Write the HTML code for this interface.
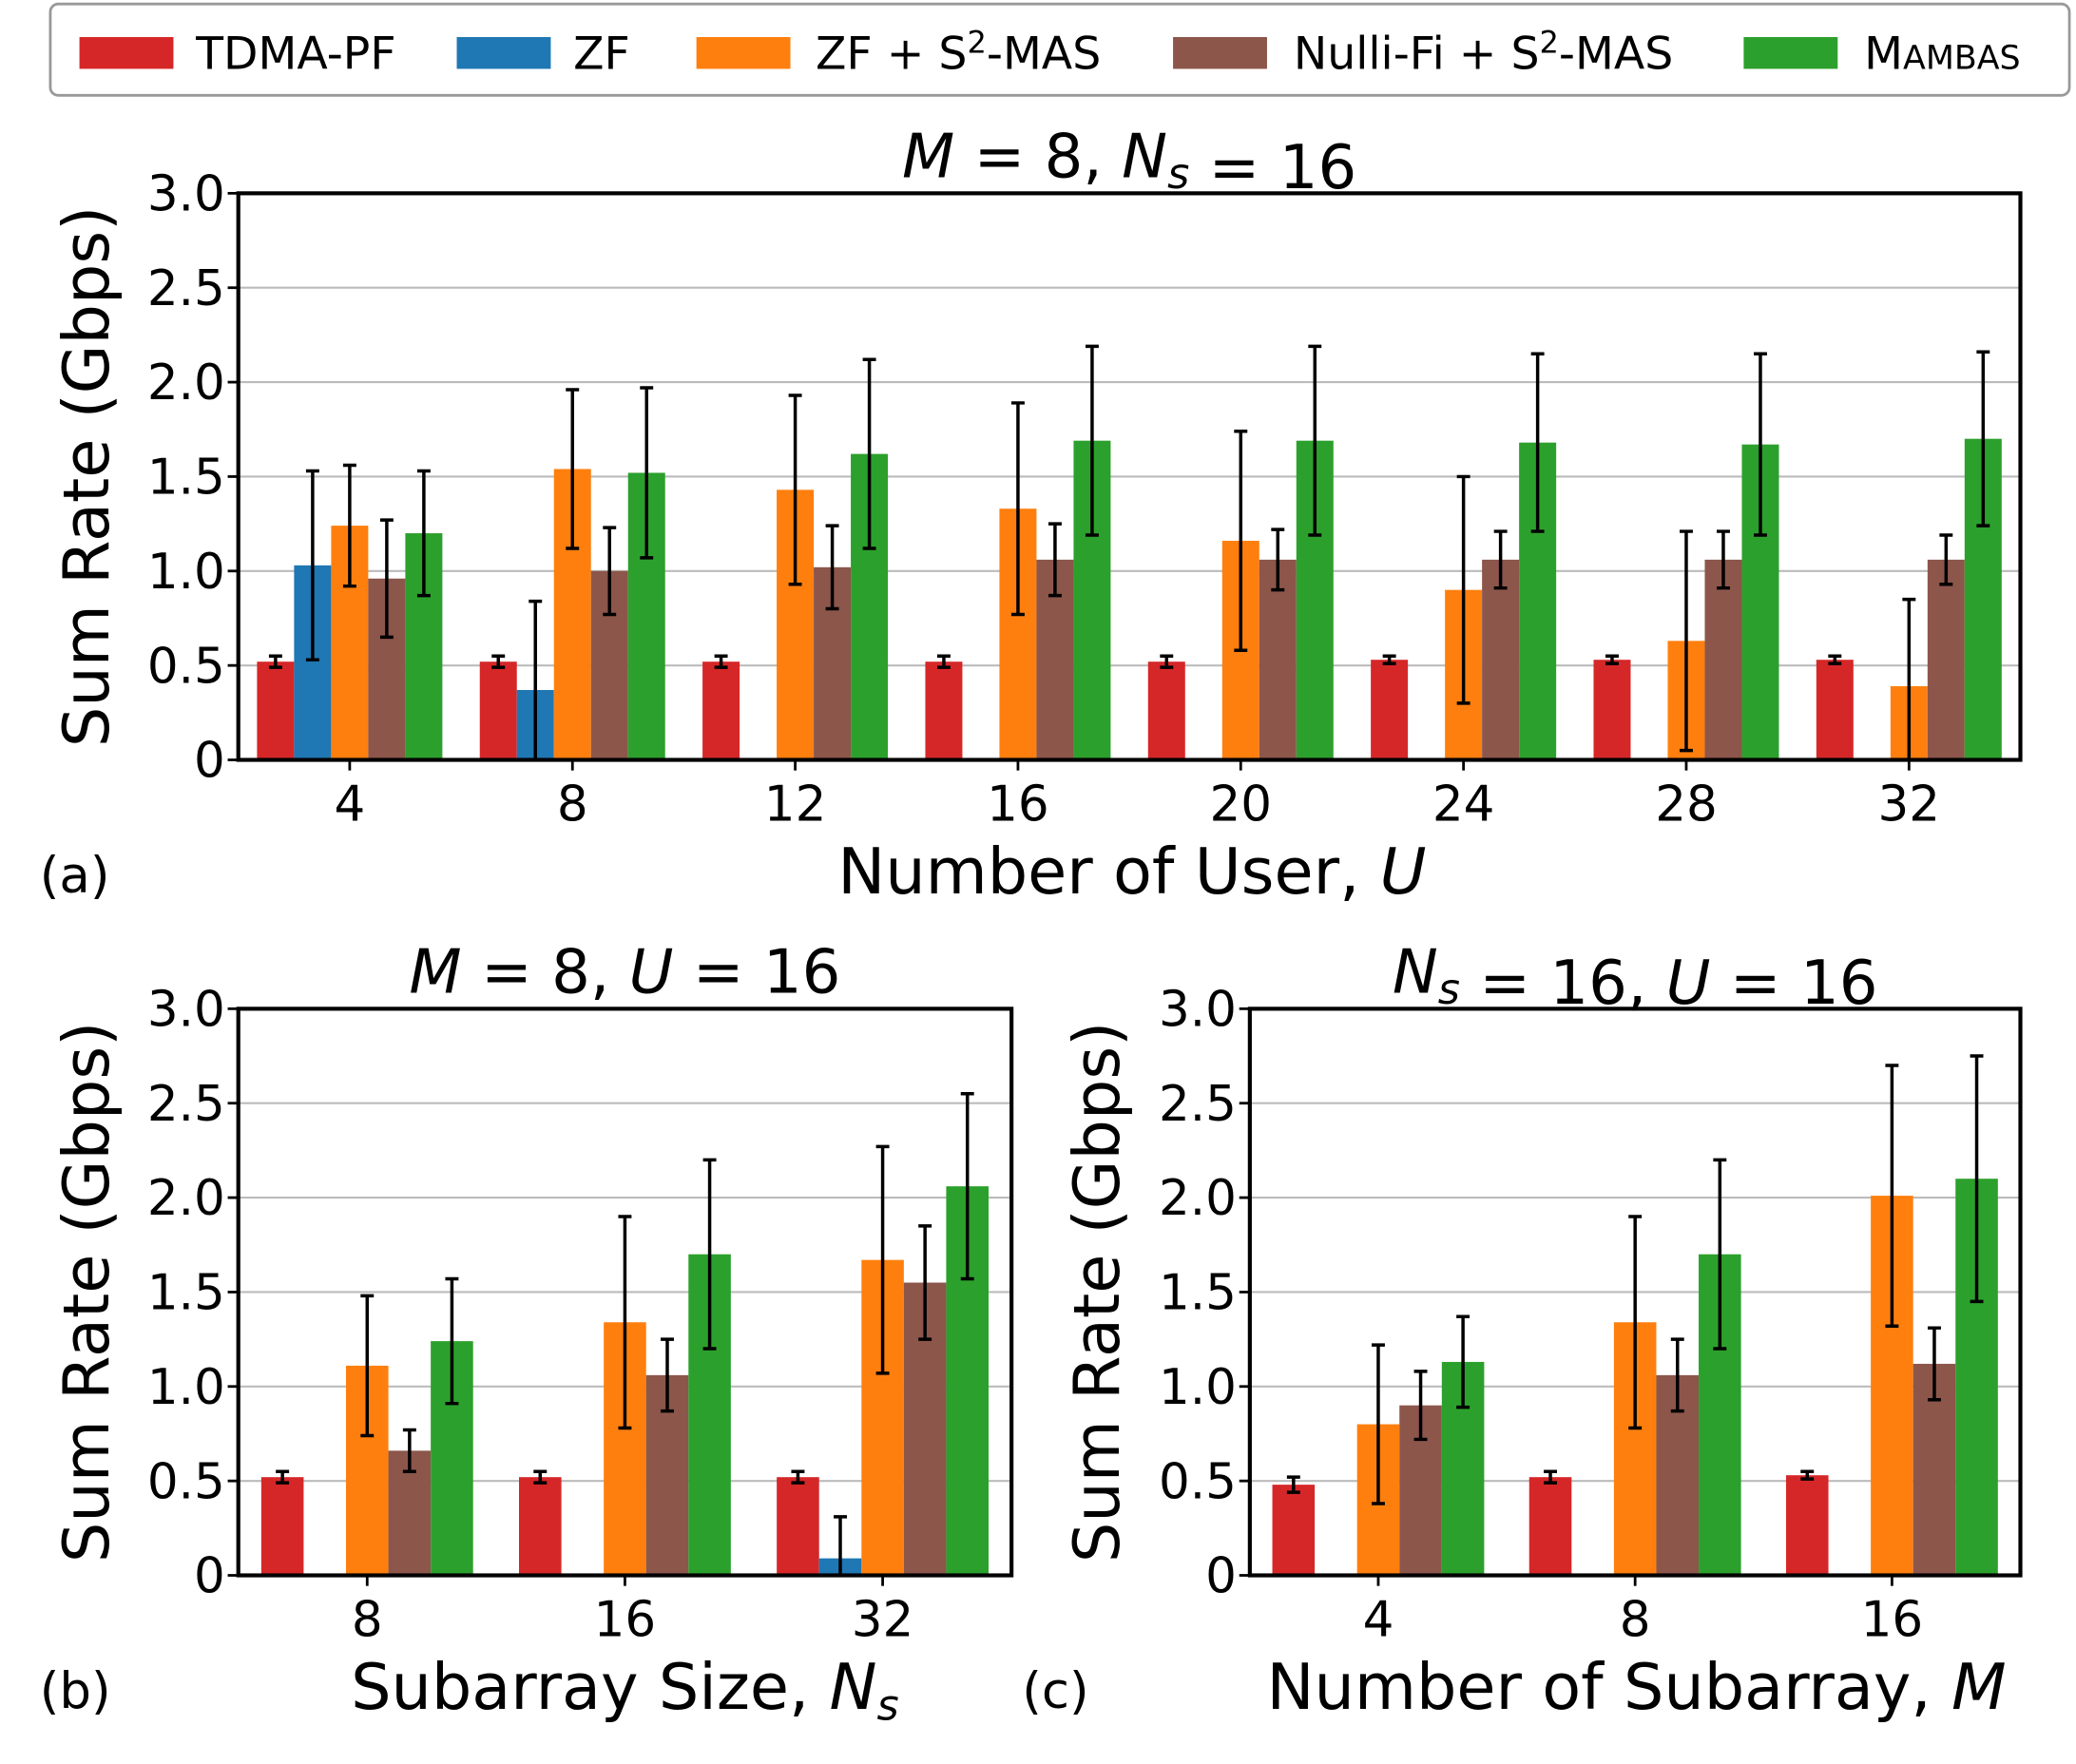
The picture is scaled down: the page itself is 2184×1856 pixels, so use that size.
<!DOCTYPE html>
<html><head><meta charset="utf-8"><style>
html,body{margin:0;padding:0;background:#fff}
svg{display:block;font-family:"DejaVu Sans","Liberation Sans",sans-serif}
</style></head><body>
<svg id="fig" width="2184" height="1856" viewBox="0 0 1568 1332.5" xmlns="http://www.w3.org/2000/svg">
<g>
<rect x="38" y="3" width="1525" height="69" rx="6" fill="#fff" stroke="#999" stroke-width="2"/>
<rect x="60" y="28" width="71" height="24" fill="#d62728"/>
<text x="148" y="52" font-size="34">TDMA-PF</text>
<rect x="345" y="28" width="71" height="24" fill="#1f77b4"/>
<text x="433" y="52" font-size="34">ZF</text>
<rect x="526" y="28" width="71" height="24" fill="#ff7f0e"/>
<text x="616" y="52" font-size="34">ZF + S<tspan font-size="23" dy="-12">2</tspan><tspan dy="12">-MAS</tspan></text>
<rect x="886" y="28" width="71" height="24" fill="#8c564b"/>
<text x="977" y="52" font-size="34">Nulli-Fi + S<tspan font-size="23" dy="-12">2</tspan><tspan dy="12">-MAS</tspan></text>
<rect x="1317" y="28" width="71" height="24" fill="#2ca02c"/>
<text x="1408" y="52" font-size="34">M<tspan font-size="25">AMBAS</tspan></text>
</g>
</svg>
<script>
const colors=["#d62728","#1f77b4","#ff7f0e","#8c564b","#2ca02c"];
const seriesNames=["tdma","zf","zf-s2mas","nullifi","mambas"];
const yTicks=[0,0.5,1.0,1.5,2.0,2.5,3.0];
const yTickLabels=["0","0.5","1.0","1.5","2.0","2.5","3.0"];
// Panel (a)
const catA=["4","8","12","16","20","24","28","32"];
const tdmaA=[0.52,0.52,0.52,0.52,0.52,0.53,0.53,0.53];
const tdmaErrA=[0.03,0.03,0.03,0.03,0.03,0.02,0.02,0.02];
const zfA=[1.03,0.37,0.01,0,0,0,0,0];
const zfErrA=[0.5,0.47,0,0,0,0,0,0];
const zfsA=[1.24,1.54,1.43,1.33,1.16,0.9,0.63,0.39];
const zfsErrA=[0.32,0.42,0.5,0.56,0.58,0.6,0.58,0.46];
const nulA=[0.96,1.0,1.02,1.06,1.06,1.06,1.06,1.06];
const nulErrA=[0.31,0.23,0.22,0.19,0.16,0.15,0.15,0.13];
const mamA=[1.2,1.52,1.62,1.69,1.69,1.68,1.67,1.7];
const mamErrA=[0.33,0.45,0.5,0.5,0.5,0.47,0.48,0.46];
// Panel (b)
const catB=["8","16","32"];
const tdmaB=[0.52,0.52,0.52];
const tdmaErrB=[0.03,0.03,0.03];
const zfB=[0,0,0.09];
const zfErrB=[0,0,0.22];
const zfsB=[1.11,1.34,1.67];
const zfsErrB=[0.37,0.56,0.6];
const nulB=[0.66,1.06,1.55];
const nulErrB=[0.11,0.19,0.3];
const mamB=[1.24,1.7,2.06];
const mamErrB=[0.33,0.5,0.49];
// Panel (c)
const catC=["4","8","16"];
const tdmaC=[0.48,0.52,0.53];
const tdmaErrC=[0.04,0.03,0.02];
const zfC=[0,0,0];
const zfErrC=[0,0,0];
const zfsC=[0.8,1.34,2.01];
const zfsErrC=[0.42,0.56,0.69];
const nulC=[0.9,1.06,1.12];
const nulErrC=[0.18,0.19,0.19];
const mamC=[1.13,1.7,2.1];
const mamErrC=[0.24,0.5,0.65];

const NS="http://www.w3.org/2000/svg";
const svg=document.getElementById("fig");
function mk(tag,attrs,parent){const e=document.createElementNS(NS,tag);for(const k in attrs)e.setAttribute(k,attrs[k]);(parent||svg).appendChild(e);return e;}

function panel(p){
  const g=mk("g",{});
  
  
  const y=v=>p.y1-(v/3)*(p.y1-p.y0);
  const n=p.cats.length, step=(p.x1-p.x0)/n;
  const xc=i=>p.x0+step*(i+0.5);
  yTicks.forEach((t,i)=>{
    if(i>0&&i<yTicks.length-1){const gl=mk("line",{x1:p.x0,x2:p.x1,y1:y(t),y2:y(t),stroke:"#bbb","stroke-width":1.5},g);
      
      }
    const tk=mk("line",{x1:p.x0-8,x2:p.x0,y1:y(t),y2:y(t),stroke:"#000","stroke-width":2},g);
    
    
    const tl=mk("text",{x:p.x0-10,y:y(t)+13,"text-anchor":"end","font-size":37},g);
    tl.textContent=yTickLabels[i];
    
    
  });
  const bw=p.bw;
  p.series.forEach((s,si)=>{
    s.v.forEach((v,i)=>{
      const bx=xc(i)-2.5*bw+si*bw;
      const r=mk("rect",{x:bx,y:y(v),width:bw,height:y(0)-y(v),fill:colors[si]},g);
      
      
      const e=s.e[i];
      if(e>0){
        const cx=bx+bw/2;
        const lo=y(Math.max(0,v-e)), hi=y(v+e);
        const eb=mk("path",{d:`M${cx},${lo}V${hi}M${cx-5},${lo}H${cx+5}M${cx-5},${hi}H${cx+5}`,stroke:"#000","stroke-width":2.5,fill:"none"},g);
        
        
      }
    });
  });
  p.cats.forEach((c,i)=>{
    const tk=mk("line",{x1:xc(i),x2:xc(i),y1:p.y1,y2:p.y1+8,stroke:"#000","stroke-width":2},g);
    
    
    const tl=mk("text",{x:xc(i),y:p.y1+46,"text-anchor":"middle","font-size":37},g);
    tl.textContent=c;
    
    
  });
  const fr=mk("rect",{x:p.x0,y:p.y0,width:p.x1-p.x0,height:p.y1-p.y0,fill:"none",stroke:"#000","stroke-width":3},g);
  
  
  const yl=mk("text",{x:0,y:0,"text-anchor":"middle","font-size":48,transform:`translate(${p.ylx},${(p.y0+p.y1)/2}) rotate(-90)`},g);
  yl.textContent="Sum Rate (Gbps)";
  
  
  const t=mk("text",{x:(p.x0+p.x1)/2,y:p.y0-12,"text-anchor":"middle","font-size":46},g);
  t.innerHTML=p.title;
  
  
  const xl=mk("text",{x:p.xlx,y:p.y1+101,"text-anchor":"middle","font-size":48},g);
  xl.innerHTML=p.xlabel;
  
  
  const pl=mk("text",{x:p.plx,y:p.y1+100,"font-size":38},g);
  pl.textContent="("+p.id+")";
  
  
}
const it=s=>`<tspan font-style="italic">${s}</tspan>`;
const Ns=`${it("N")}<tspan font-style="italic" font-size="32" dy="8">s</tspan><tspan dy="-8"></tspan>`;
panel({id:"a",x0:180,x1:1526,y0:146,y1:574,bw:28,cats:catA,ylx:82,plx:30,xlx:855,
  title:`${it("M")} = 8, ${Ns} = 16`,xlabel:`Number of User, ${it("U")}`,
  series:[{v:tdmaA,e:tdmaErrA},{v:zfA,e:zfErrA},{v:zfsA,e:zfsErrA},{v:nulA,e:nulErrA},{v:mamA,e:mamErrA}]});
panel({id:"b",x0:180,x1:764,y0:762,y1:1190,bw:32,cats:catB,ylx:82,plx:30,xlx:472,
  title:`${it("M")} = 8, ${it("U")} = 16`,xlabel:`Subarray Size, ${Ns}`,
  series:[{v:tdmaB,e:tdmaErrB},{v:zfB,e:zfErrB},{v:zfsB,e:zfsErrB},{v:nulB,e:nulErrB},{v:mamB,e:mamErrB}]});
panel({id:"c",x0:944,x1:1526,y0:762,y1:1190,bw:32,cats:catC,ylx:845,plx:772,xlx:1236,
  title:`${Ns} = 16, ${it("U")} = 16`,xlabel:`Number of Subarray, ${it("M")}`,
  series:[{v:tdmaC,e:tdmaErrC},{v:zfC,e:zfErrC},{v:zfsC,e:zfsErrC},{v:nulC,e:nulErrC},{v:mamC,e:mamErrC}]});
</script>
</body></html>
